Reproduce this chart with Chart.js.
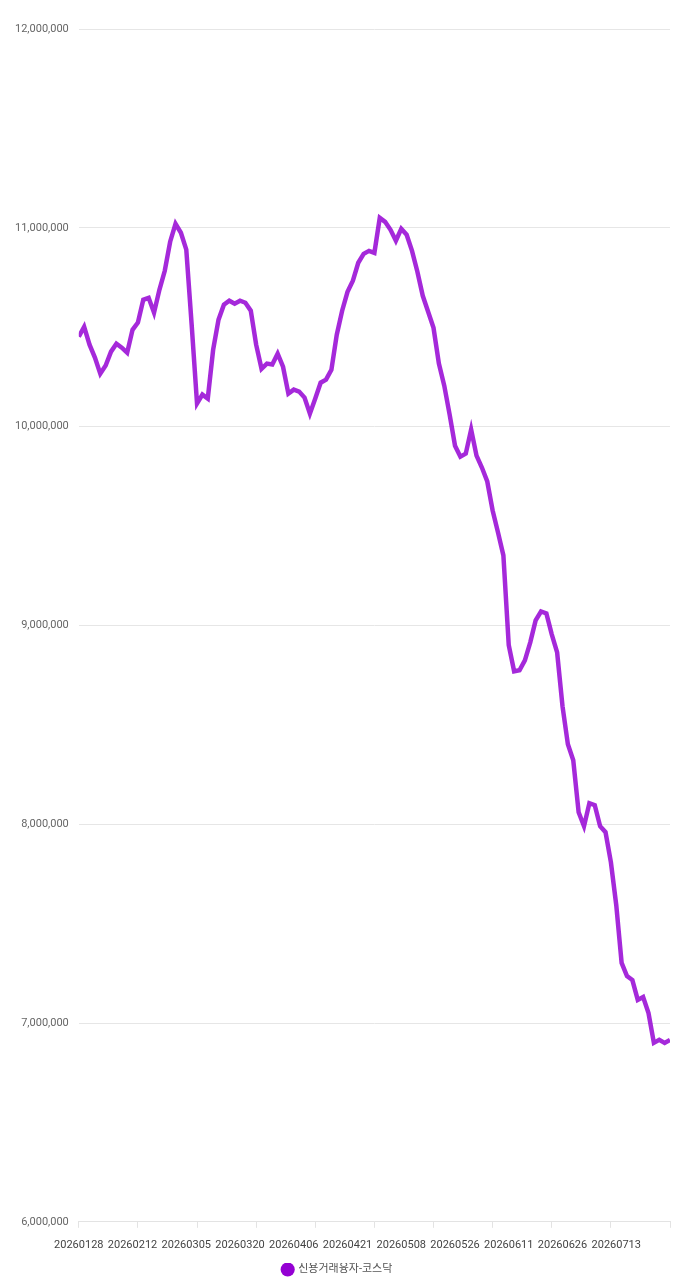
<!DOCTYPE html>
<html>
<head>
<meta charset="utf-8">
<script src="https://cdn.jsdelivr.net/npm/chart.js@4.4.1/dist/chart.umd.min.js"></script>
<style>
  html, body { margin: 0; padding: 0; background: #fff; }
  #wrap { width: 679px; height: 1280px; position: relative; }
</style>
</head>
<body>
<div id="wrap"><canvas id="chart"></canvas></div>
<script>
// visible date labels on the x axis (every 11th trading day)
const tickLabels = [
  '20260128', '20260212', '20260305', '20260320', '20260406', '20260421',
  '20260508', '20260526', '20260611', '20260626', '20260713'
];
const labelStep = 11;

// 신용거래융자-코스닥, one value per trading day
const values = [
  10452000, 10502000, 10412000, 10347000, 10266000, 10307000, 10377000, 10417000, 10397000, 10372000,
  10487000, 10523000, 10638000, 10648000, 10573000, 10688000, 10784000, 10930000, 11020000, 10975000,
  10890000, 10513000, 10116000, 10161000, 10141000, 10387000, 10538000, 10613000, 10633000, 10618000,
  10633000, 10623000, 10583000, 10412000, 10291000, 10317000, 10312000, 10367000, 10301000, 10166000,
  10186000, 10176000, 10146000, 10065000, 10141000, 10221000, 10236000, 10286000, 10462000, 10583000,
  10678000, 10734000, 10824000, 10869000, 10884000, 10874000, 11050000, 11030000, 10990000, 10935000,
  10995000, 10965000, 10884000, 10779000, 10658000, 10578000, 10497000, 10317000, 10206000, 10060000,
  9904000, 9849000, 9864000, 9985000, 9854000, 9794000, 9724000, 9578000, 9467000, 9352000,
  8900000, 8769000, 8774000, 8824000, 8915000, 9025000, 9070000, 9060000, 8955000, 8864000,
  8593000, 8402000, 8322000, 8060000, 7990000, 8106000, 8096000, 7990000, 7960000, 7809000,
  7593000, 7302000, 7236000, 7216000, 7116000, 7131000, 7050000, 6900000, 6915000, 6900000,
  6915000
];

const yMin = 6000000;
const yMax = 12000000;
const yStep = 1000000;

const seriesName = '신용거래융자-코스닥';
const fontFamily = "Roboto, 'Noto Sans CJK KR', sans-serif";
const lastIndex = values.length - 1;

const ctx = document.getElementById('chart').getContext('2d');
new Chart(ctx, {
  type: 'line',
  data: {
    datasets: [{
      label: seriesName,
      data: values.map((v, i) => ({ x: i, y: v })),
      borderColor: 'rgba(148, 0, 211, 0.84)',
      backgroundColor: '#9400d3',
      borderWidth: 4.5,
      pointRadius: 0,
      pointHoverRadius: 0,
      pointBorderWidth: 0,
      pointBackgroundColor: '#9400d3',
      tension: 0,
      fill: false,
    }],
  },
  options: {
    responsive: true,
    maintainAspectRatio: false,
    animation: false,
    layout: {
      padding: { top: 29, right: 9, bottom: -5, left: 5 },
    },
    plugins: {
      legend: {
        position: 'bottom',
        labels: {
          usePointStyle: true,
          pointStyle: 'circle',
          boxWidth: 10,
          boxHeight: 10,
          color: '#555',
          padding: 1,
          font: { family: fontFamily, size: 11 },
        },
      },
      tooltip: { enabled: false },
    },
    scales: {
      x: {
        type: 'linear',
        position: 'bottom',
        weight: 0,
        min: 0,
        max: lastIndex,
        border: { display: true, color: '#e3e3e3' },
        grid: {
          drawOnChartArea: false,
          drawTicks: true,
          tickLength: 6,
          color: '#e3e3e3',
        },
        ticks: {
          display: false,
          stepSize: labelStep,
        },
      },
      xLabels: {
        type: 'linear',
        position: 'bottom',
        weight: 1,
        min: 0,
        max: lastIndex,
        border: { display: false },
        grid: { display: false, drawTicks: false },
        afterBuildTicks: (axis) => {
          // labels sit packed side by side, a little tighter than the tick marks
          axis.ticks = tickLabels.map((_, i) => ({ value: i * (labelStep - 1) }));
        },
        ticks: {
          autoSkip: false,
          maxRotation: 0,
          minRotation: 0,
          padding: 11,
          color: '#444',
          font: { family: fontFamily, size: 11 },
          callback: (value, index) => tickLabels[index],
        },
      },
      y: {
        min: yMin,
        max: yMax,
        border: { display: false },
        grid: {
          color: '#e6e6e6',
          drawTicks: false,
        },
        ticks: {
          stepSize: yStep,
          padding: 10,
          color: '#666',
          font: { family: fontFamily, size: 11 },
          callback: (value) => value.toLocaleString('en-US'),
        },
      },
    },
  },
});
</script>
</body>
</html>
